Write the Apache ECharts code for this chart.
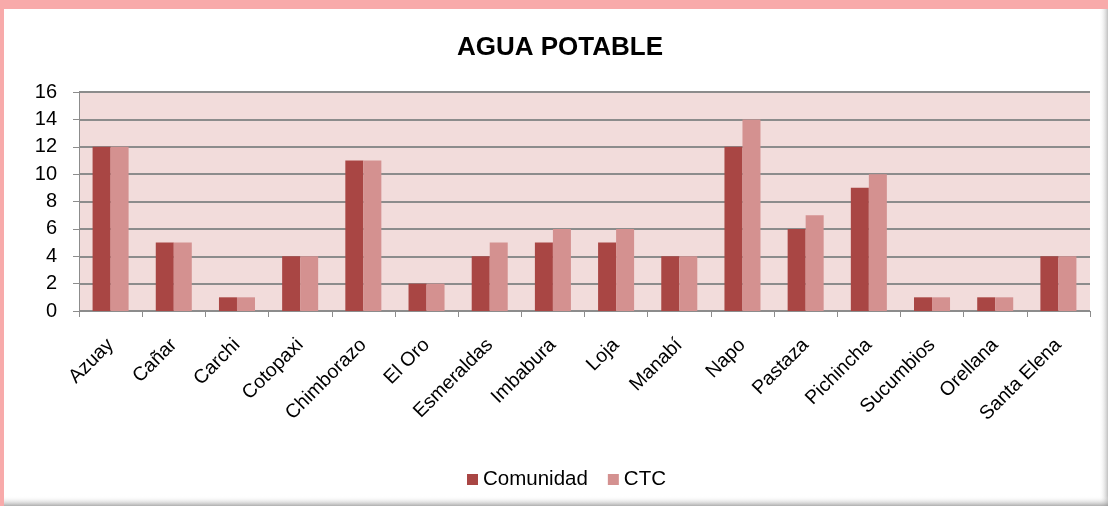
<!DOCTYPE html>
<html>
<head>
<meta charset="utf-8">
<script src="https://cdn.jsdelivr.net/npm/echarts@6/dist/echarts.min.js"></script>
<style>
  html, body { margin: 0; padding: 0; background: #fff; }
  #chart { width: 1108px; height: 506px; }
</style>
</head>
<body>
<div id="chart"></div>
<script>
var provincias = ['Azuay', 'Cañar', 'Carchi', 'Cotopaxi', 'Chimborazo', 'El Oro', 'Esmeraldas', 'Imbabura',
    'Loja', 'Manabí', 'Napo', 'Pastaza', 'Pichincha', 'Sucumbios', 'Orellana', 'Santa Elena'];
var comunidad = [12, 5, 1, 4, 11, 2, 4, 5, 5, 4, 12, 6, 9, 1, 1, 4];
var ctc = [12, 5, 1, 4, 11, 2, 5, 6, 6, 4, 14, 7, 10, 1, 1, 4];

var myChart = echarts.init(document.getElementById('chart'));
var fontFam = '"Liberation Sans", Arial, sans-serif';

option = {
    backgroundColor: '#fff',
    animation: false,
    textStyle: { fontFamily: fontFam },
    // pink frame at top/left and grey shade at right/bottom
    graphic: [
        { type: 'rect', left: 0, top: 0, shape: { width: 1108, height: 9 }, style: { fill: '#f8aaaa' }, silent: true },
        { type: 'rect', left: 0, top: 0, shape: { width: 4, height: 506 }, style: { fill: '#f8aaaa' }, silent: true },
        {
            type: 'rect', left: 1099, top: 9, shape: { width: 9, height: 497 }, silent: true,
            style: { fill: new echarts.graphic.LinearGradient(0, 0, 1, 0, [
                { offset: 0, color: 'rgba(255,255,255,0)' }, { offset: 1, color: 'rgba(150,150,150,0.6)' }]) }
        },
        {
            type: 'rect', left: 4, top: 496, shape: { width: 1104, height: 10 }, silent: true,
            style: { fill: new echarts.graphic.LinearGradient(0, 0, 0, 1, [
                { offset: 0, color: 'rgba(255,255,255,0)' }, { offset: 1, color: 'rgba(140,140,140,0.7)' }]) }
        }
    ],
    title: {
        text: 'AGUA POTABLE',
        left: 452,
        top: 30,
        textStyle: { fontSize: 26, fontWeight: 'bold', color: '#000', fontFamily: fontFam }
    },
    legend: {
        bottom: 11,
        left: 462,
        itemWidth: 11,
        itemHeight: 11,
        itemGap: 20,
        icon: 'rect',
        textStyle: { fontSize: 20.5, color: '#000', padding: [0, 0, 0, 0] },
        data: ['Comunidad', 'CTC']
    },
    grid: {
        left: 79,
        right: 18,
        top: 92,
        bottom: 195,
        show: true,
        backgroundColor: '#f2dcdb',
        borderWidth: 0
    },
    xAxis: {
        type: 'category',
        data: provincias,
        axisLine: { lineStyle: { color: '#8c8c8c', width: 1 } },
        axisTick: { show: true, length: 6, alignWithLabel: false, lineStyle: { color: '#8c8c8c' } },
        axisLabel: { rotate: 45, margin: 31, fontSize: 19.5, color: '#000', interval: 0 },
        splitLine: { show: false }
    },
    yAxis: {
        type: 'value',
        min: 0,
        max: 16,
        interval: 2,
        axisLine: { show: true, lineStyle: { color: '#8c8c8c', width: 1 } },
        axisTick: { show: true, length: 6, lineStyle: { color: '#8c8c8c' } },
        axisLabel: { fontSize: 20, color: '#000', margin: 22 },
        splitLine: { show: true, lineStyle: { color: '#8c8c8c', width: 2 } }
    },
    series: [
        {
            name: 'Comunidad',
            type: 'bar',
            data: comunidad,
            barGap: '0%',
            barCategoryGap: '43%',
            itemStyle: { color: '#a94644' }
        },
        {
            name: 'CTC',
            type: 'bar',
            data: ctc,
            itemStyle: { color: '#d49190' }
        }
    ]
};

myChart.setOption(option);
</script>
</body>
</html>
